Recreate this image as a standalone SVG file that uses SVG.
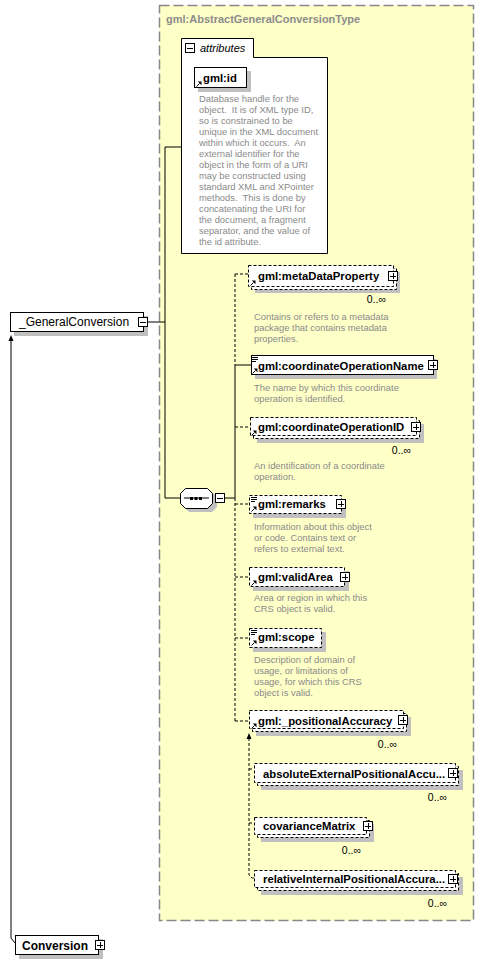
<svg xmlns="http://www.w3.org/2000/svg" width="485" height="964" viewBox="0 0 485 964">
<style>
.nb{font:bold 11.3px "Liberation Sans",Arial,sans-serif;fill:#000}
.d{font:9.4px "Liberation Sans",Arial,sans-serif;fill:#8a8a8a}
.m{font:10.5px "Liberation Sans",Arial,sans-serif;fill:#000;text-anchor:end}
.sh{fill:#c0c0c0}
.bx{fill:#fff;stroke:#000;stroke-width:1}
.bd{fill:#fff;stroke:#000;stroke-width:1;stroke-dasharray:3 2}
.ln{fill:none;stroke:#000;stroke-width:1}
.ld{fill:none;stroke:#000;stroke-width:1;stroke-dasharray:3 2}
</style>
<defs>
<g id="plus"><rect x="0.5" y="0.5" width="9" height="9" fill="#fff" stroke="#000"/><path d="M2 5H8M5 2V8" stroke="#000" shape-rendering="crispEdges"/></g>
<g id="minus"><rect x="0.5" y="0.5" width="9" height="9" fill="#fff" stroke="#000"/><path d="M2 5H8" stroke="#000" shape-rendering="crispEdges"/></g>
<g id="ref"><path d="M0.5 5.5L3.5 2.5" stroke="#000"/><path d="M1.8 0.5H5.5V4.2Z" fill="#000"/></g>
<g id="tc"><path d="M0 0.5H6M0 2.5H6M0 4.5H4" stroke="#000"/></g>
</defs>

<g id="type">
<rect x="159.5" y="5.5" width="314" height="915" fill="#ffffc8" stroke="#888" stroke-width="1.5" stroke-dasharray="10 4"/>
<text x="166" y="23" style="font:bold 11px 'Liberation Sans',Arial,sans-serif;fill:#8c8c8c">gml:AbstractGeneralConversionType</text>
</g>

<g id="connectors">
<path class="ln" d="M148 322H165M165 147V498M165 147H181M165 498H180M225 498H235M235 365V498M235 365H251"/>
<path class="ld" d="M235 274V365M235 274H248M235 427H250M235 498V721M235 504H249M235 577H249M235 638H249M235 721H249"/>
<path class="ld" d="M249 738V875L252 878H254M249 769H254M249 823H254"/>
<polygon points="249,733 246.5,739 251.5,739" fill="#000"/>
<path class="ln" d="M11 340V938L15 943"/>
<polygon points="11,335 8.5,341 13.5,341" fill="#000"/>
</g>

<g id="attributes">
<path d="M181.5 38.5H253.5V57.5H327.5V253.5H181.5Z" fill="#fff" stroke="#000"/>
<use href="#minus" x="185" y="43"/>
<text x="200" y="52" style="font:italic 11px 'Liberation Sans',Arial,sans-serif;fill:#000">attributes</text>
</g>

<g id="gml-id">
<rect class="sh" x="198" y="71" width="53" height="21"/>
<rect class="bx" x="194.5" y="67.5" width="52" height="20"/>
<use href="#ref" x="196" y="81"/>
<text class="nb" x="203" y="82">gml:id</text>
<text class="d" xml:space="preserve"><tspan x="199" y="102">Database handle for the</tspan><tspan x="199" y="113">object.  It is of XML type ID,</tspan><tspan x="199" y="124">so is constrained to be</tspan><tspan x="199" y="135">unique in the XML document</tspan><tspan x="199" y="146">within which it occurs.  An</tspan><tspan x="199" y="157">external identifier for the</tspan><tspan x="199" y="168">object in the form of a URI</tspan><tspan x="199" y="179">may be constructed using</tspan><tspan x="199" y="190">standard XML and XPointer</tspan><tspan x="199" y="201">methods.  This is done by</tspan><tspan x="199" y="212">concatenating the URI for</tspan><tspan x="199" y="223">the document, a fragment</tspan><tspan x="199" y="234">separator, and the value of</tspan><tspan x="199" y="245">the id attribute.</tspan></text>
</g>

<g id="GeneralConversion">
<rect class="sh" x="14" y="316" width="134" height="20"/>
<rect class="bx" x="10.5" y="312.5" width="133" height="19"/>
<text x="19" y="326" style="font:12px 'Liberation Sans',Arial,sans-serif;fill:#000">_GeneralConversion</text>
<use href="#minus" x="138" y="317"/>
</g>

<g id="sequence">
<polygon class="sh" points="189,492 212,492 217,497 217,507 212,512 189,512 184,507 184,497"/>
<polygon class="bx" points="185.5,488.5 207.5,488.5 212.5,493.5 212.5,503.5 207.5,508.5 185.5,508.5 180.5,503.5 180.5,493.5"/>
<path class="ln" d="M184 498H209"/>
<rect x="190" y="497" width="3" height="3" fill="#000"/>
<rect x="194.5" y="497" width="3" height="3" fill="#000"/>
<rect x="199" y="497" width="3" height="3" fill="#000"/>
<use href="#minus" x="215" y="493"/>
</g>

<g id="metaDataProperty">
<rect class="sh" x="255" y="272" width="145" height="21"/>
<rect class="bd" x="251.5" y="268.5" width="145" height="21"/>
<rect class="bd" x="248.5" y="265.5" width="145" height="21"/>
<use href="#ref" x="250" y="280"/>
<text class="nb" x="258" y="280">gml:metaDataProperty</text>
<use href="#plus" x="388" y="271"/>
<text class="m" x="386" y="303">0..∞</text>
<text class="d"><tspan x="254" y="320">Contains or refers to a metadata</tspan><tspan x="254" y="331">package that contains metadata</tspan><tspan x="254" y="342">properties.</tspan></text>
</g>

<g id="coordinateOperationName">
<rect class="sh" x="255" y="359" width="182" height="20"/>
<rect class="bx" x="251.5" y="355.5" width="182" height="19"/>
<use href="#tc" x="252" y="357"/>
<use href="#ref" x="252" y="368"/>
<text class="nb" x="258" y="370">gml:coordinateOperationName</text>
<use href="#plus" x="428" y="360"/>
<text class="d"><tspan x="254" y="391">The name by which this coordinate</tspan><tspan x="254" y="402">operation is identified.</tspan></text>
</g>

<g id="coordinateOperationID">
<rect class="sh" x="257" y="424" width="167" height="19"/>
<rect class="bd" x="253.5" y="420.5" width="166" height="18"/>
<rect class="bd" x="250.5" y="417.5" width="166" height="18"/>
<use href="#ref" x="251" y="430"/>
<text class="nb" x="258" y="431">gml:coordinateOperationID</text>
<use href="#plus" x="411" y="422"/>
<text class="m" x="411" y="454">0..∞</text>
<text class="d"><tspan x="254" y="469">An identification of a coordinate</tspan><tspan x="254" y="480">operation.</tspan></text>
</g>

<g id="remarks">
<rect class="sh" x="253" y="499" width="93" height="19"/>
<rect class="bd" x="249.5" y="495.5" width="92" height="18"/>
<use href="#tc" x="251" y="497"/>
<use href="#ref" x="251" y="506"/>
<text class="nb" x="258" y="508">gml:remarks</text>
<use href="#plus" x="336" y="499"/>
<text class="d"><tspan x="254" y="530">Information about this object</tspan><tspan x="254" y="541">or code. Contains text or</tspan><tspan x="254" y="552">refers to external text.</tspan></text>
</g>

<g id="validArea">
<rect class="sh" x="253" y="571" width="96" height="20"/>
<rect class="bd" x="249.5" y="567.5" width="95" height="19"/>
<use href="#ref" x="251" y="580"/>
<text class="nb" x="258" y="581">gml:validArea</text>
<use href="#plus" x="340" y="572"/>
<text class="d"><tspan x="254" y="601">Area or region in which this</tspan><tspan x="254" y="612">CRS object is valid.</tspan></text>
</g>

<g id="scope">
<rect class="sh" x="253" y="632" width="73" height="20"/>
<rect class="bd" x="249.5" y="628.5" width="72" height="19"/>
<use href="#tc" x="251" y="630"/>
<use href="#ref" x="251" y="640"/>
<text class="nb" x="258" y="641">gml:scope</text>
<text class="d"><tspan x="254" y="663">Description of domain of</tspan><tspan x="254" y="674">usage, or limitations of</tspan><tspan x="254" y="685">usage, for which this CRS</tspan><tspan x="254" y="696">object is valid.</tspan></text>
</g>

<g id="positionalAccuracy">
<rect class="sh" x="256" y="717" width="155" height="19"/>
<rect class="bd" x="252.5" y="713.5" width="154" height="18"/>
<rect class="bd" x="249.5" y="710.5" width="154" height="18"/>
<use href="#ref" x="251" y="723"/>
<text class="nb" x="258" y="725">gml:_positionalAccuracy</text>
<use href="#plus" x="398" y="715"/>
<text class="m" x="397" y="748">0..∞</text>
</g>

<g id="absoluteExternalPositionalAccuracy">
<rect class="sh" x="261" y="770" width="202" height="20"/>
<rect class="bd" x="257.5" y="766.5" width="201" height="19"/>
<rect class="bd" x="254.5" y="763.5" width="201" height="19"/>
<text class="nb" x="263" y="778">absoluteExternalPositionalAccu...</text>
<use href="#plus" x="448" y="768"/>
<text class="m" x="447" y="801">0..∞</text>
</g>

<g id="covarianceMatrix">
<rect class="sh" x="261" y="824" width="113" height="18"/>
<rect class="bd" x="257.5" y="820.5" width="112" height="17"/>
<rect class="bd" x="254.5" y="817.5" width="112" height="17"/>
<text class="nb" x="263" y="830">covarianceMatrix</text>
<use href="#plus" x="363" y="821"/>
<text class="m" x="361" y="854">0..∞</text>
</g>

<g id="relativeInternalPositionalAccuracy">
<rect class="sh" x="261" y="877" width="202" height="18"/>
<rect class="bd" x="257.5" y="873.5" width="201" height="17"/>
<rect class="bd" x="254.5" y="870.5" width="201" height="17"/>
<text class="nb" x="263" y="883">relativeInternalPositionalAccura...</text>
<use href="#plus" x="448" y="874"/>
<text class="m" x="447" y="907">0..∞</text>
</g>

<g id="Conversion">
<rect class="sh" x="19" y="939" width="84" height="20"/>
<rect class="bx" x="15.5" y="935.5" width="83" height="19"/>
<text x="22" y="950" style="font:bold 12px 'Liberation Sans',Arial,sans-serif;fill:#000">Conversion</text>
<use href="#plus" x="95" y="940"/>
</g>
</svg>
